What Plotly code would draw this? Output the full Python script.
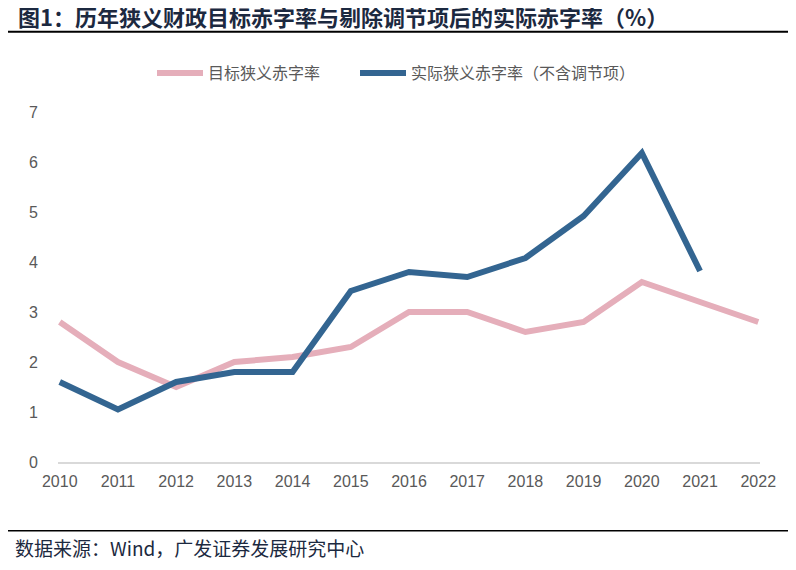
import plotly.graph_objects as go

years = list(range(2010, 2023))
target_deficit = [2.8, 2.0, 1.5, 2.0, 2.1, 2.3, 3.0, 3.0, 2.6, 2.8, 3.6, 3.2, 2.8]
actual_years = list(range(2010, 2022))
actual_deficit = [1.6, 1.05, 1.6, 1.8, 1.8, 3.42, 3.8, 3.7, 4.08, 4.92, 6.18, 3.82]
name_target = "目标狭义赤字率"
name_actual = "实际狭义赤字率（不含调节项）"
title_text = "图1：历年狭义财政目标赤字率与剔除调节项后的实际赤字率（%）"
source_text = "数据来源：Wind，广发证券发展研究中心"

PINK = "#E5AEBA"
BLUE = "#336591"
GRAY = "#595959"
DARK = "#1C2940"
CJK = "Noto Sans CJK SC"

fig = go.Figure()
fig.add_trace(go.Scatter(x=years, y=target_deficit, mode="lines", name=name_target,
                         line=dict(color=PINK, width=6), legend="legend"))
fig.add_trace(go.Scatter(x=actual_years, y=actual_deficit, mode="lines", name=name_actual,
                         line=dict(color=BLUE, width=6), legend="legend2"))

legend_common = dict(orientation="h", xanchor="left", y=1.111, yanchor="middle",
                     font=dict(family=CJK, size=16, color=GRAY), itemwidth=46,
                     bgcolor="rgba(0,0,0,0)")

fig.update_layout(
    width=796, height=570,
    margin=dict(l=50, r=44, t=104, b=116),
    paper_bgcolor="white", plot_bgcolor="white",
    showlegend=True,
    legend=dict(x=(152 - 58) / 702, **legend_common),
    legend2=dict(x=(355 - 58) / 702, **legend_common),
    xaxis=dict(range=[2009.97, 2022.03], tickmode="array", tickvals=years,
               ticktext=[str(y) for y in years], showgrid=False, zeroline=False,
               showline=True, linecolor="#D9D9D9", linewidth=2, ticks="",
               ticklabelstandoff=4,
               tickfont=dict(family="Liberation Sans", size=16, color=GRAY)),
    yaxis=dict(range=[0, 7], dtick=1, showgrid=False, zeroline=False, showline=False,
               ticks="", ticklabelstandoff=19,
               tickfont=dict(family="Liberation Sans", size=16, color=GRAY)),
    shapes=[
        dict(type="line", xref="paper", yref="paper", x0=-0.0755, x1=1.0427,
             y0=1.2294, y1=1.2294, line=dict(color="black", width=2)),
        dict(type="line", xref="paper", yref="paper", x0=-0.0755, x1=1.0427,
             y0=-0.1963, y1=-0.1963, line=dict(color="black", width=1.5)),
    ],
    annotations=[
        dict(text="<b>" + title_text + "</b>", xref="paper", yref="paper",
             x=-0.0594, y=1.274, xanchor="left", yanchor="middle", showarrow=False,
             font=dict(family=CJK, size=22, color=DARK)),
        dict(text=source_text, xref="paper", yref="paper",
             x=-0.064, y=-0.2457, xanchor="left", yanchor="middle", showarrow=False,
             font=dict(family=CJK, size=19, color=DARK)),
    ],
)

fig.write_html("out.html")
